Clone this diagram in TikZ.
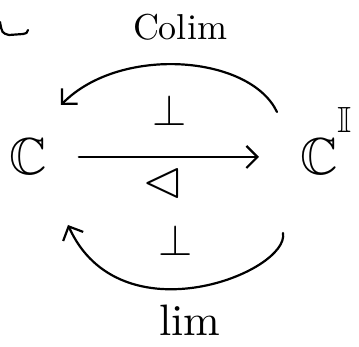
\documentclass[tikz,border=0pt]{standalone}
\usepackage{amssymb}
\usetikzlibrary{arrows.meta}

\begin{document}
\begin{tikzpicture}[
    x=1pt, y=-1pt,
    obj/.style={inner sep=0pt, scale=5.2},
    lbl/.style={inner sep=0pt, scale=4},
    adj/.style={inner sep=0pt, scale=4.4},
    arrow/.style={-{Straight Barb[length=11pt, width=22pt]}, line width=2.2pt, line cap=round},
    stroke/.style={line width=2.2pt, line cap=round}
]
\useasboundingbox (0,0) rectangle (359,347);

% objects
\node[obj] (src) at (28,157) {$\mathbb{C}$};
\node[obj, anchor=base west] (tgt) at (299,175) {$\mathbb{C}^{\raisebox{4.5pt}{$\scriptstyle\mathbb{I}$}}$};

% labels
\node[lbl, scale=0.9] (colim) at (180,27) {Colim};
\node[lbl, scale=1.1] (lim) at (190,320) {lim};
\node[adj] (adjtop) at (170,110) {$\perp$};
\node[adj] (adjbot) at (176,240) {$\perp$};
\node[obj] (diag) at (163,183) {$\lhd$};

% ends of the curved arrows
\coordinate (colimR) at (277,112);
\coordinate (colimL) at (61,105);
\coordinate (limR) at (283,233);
\coordinate (limL) at (68,225);

\draw[arrow, shorten <=31pt, shorten >=40pt] (src.east) -- (src.east -| tgt.west);
\draw[arrow] (colimR) .. controls (250,55) and (120,45) .. (colimL);
\draw[arrow] (limR) .. controls (290,272) and (120,340) .. (limL);

% cut-off stroke at top left
\draw[stroke] (0,22) .. controls (2,33) .. (9,35) -- (23,34) .. controls (27,33) .. (28,30);
\end{tikzpicture}
\end{document}
